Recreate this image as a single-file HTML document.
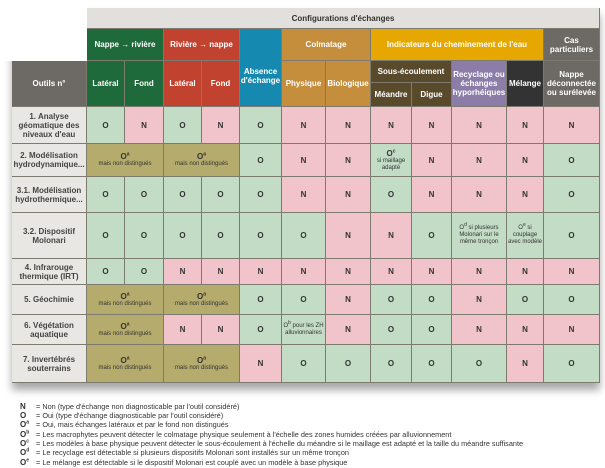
<!DOCTYPE html>
<html><head><meta charset="utf-8"><style>
body{margin:0;width:605px;height:468px;background:#fff;position:relative;overflow:hidden;font-family:"Liberation Sans",sans-serif}
.c{position:absolute;display:flex;align-items:center;justify-content:center;text-align:center;box-sizing:border-box;border-right:1px solid #7d7b70;border-bottom:1px solid #7d7b70;font-size:8px;line-height:9px;color:#333;font-weight:bold}
.h{color:#fff;font-size:8px}
.g{background:#c3dcc6}.p{background:#f1c4cb}.o{background:#b4ab6c}.l{background:#e9e7e3;font-size:8px;font-weight:bold;color:#444}
.s{font-size:6px;line-height:7px;font-weight:normal}
sup{font-size:5px;line-height:0}
.lg{position:absolute;left:20px;font-size:7.3px;color:#333;white-space:nowrap}
.lg b{display:inline-block;width:14px;font-size:8px}
</style></head><body>
<div style="position:absolute;left:12px;top:8px;width:588px;height:375px;box-shadow:0 7px 8px rgba(0,0,0,.35);"></div>
<div style="position:absolute;left:0;top:0;width:87px;height:61px;background:#fff"></div>
<div class="c" style="left:87px;top:8px;width:513px;height:21px;background:#e2e0dc;font-weight:bold">Configurations d'échanges</div>
<div class="c h" style="left:87px;top:29px;width:77px;height:32px;background:#1f6a3b">Nappe → rivière</div>
<div class="c h" style="left:164px;top:29px;width:76px;height:32px;background:#c1432f">Rivière → nappe</div>
<div class="c h" style="left:240px;top:29px;width:42px;height:78px;background:#1689b0;align-items:flex-start;padding-top:38px">Absence d'échange</div>
<div class="c h" style="left:282px;top:29px;width:89px;height:32px;background:#c58e3c">Colmatage</div>
<div class="c h" style="left:371px;top:29px;width:173px;height:32px;background:#e6a800">Indicateurs du cheminement de l'eau</div>
<div class="c h" style="left:544px;top:29px;width:56px;height:32px;background:#6d6a66">Cas particuliers</div>
<div class="c h" style="left:12px;top:61px;width:75px;height:46px;background:#6d6a66">Outils n°</div>
<div class="c h" style="left:87px;top:61px;width:38px;height:46px;background:#1f6a3b">Latéral</div>
<div class="c h" style="left:125px;top:61px;width:39px;height:46px;background:#1f6a3b">Fond</div>
<div class="c h" style="left:164px;top:61px;width:38px;height:46px;background:#c1432f">Latéral</div>
<div class="c h" style="left:202px;top:61px;width:38px;height:46px;background:#c1432f">Fond</div>
<div class="c h" style="left:282px;top:61px;width:44px;height:46px;background:#c58e3c">Physique</div>
<div class="c h" style="left:326px;top:61px;width:45px;height:46px;background:#c58e3c">Biologique</div>
<div class="c h" style="left:371px;top:61px;width:81px;height:22px;background:#5a4a2c">Sous-écoulement</div>
<div class="c h" style="left:371px;top:83px;width:41px;height:24px;background:#5a4a2c">Méandre</div>
<div class="c h" style="left:412px;top:83px;width:40px;height:24px;background:#5a4a2c">Digue</div>
<div class="c h" style="left:452px;top:61px;width:55px;height:46px;background:#8b7ca8">Recyclage ou échanges hyporhéiques</div>
<div class="c h" style="left:507px;top:61px;width:37px;height:46px;background:#333">Mélange</div>
<div class="c h" style="left:544px;top:61px;width:56px;height:46px;background:#6d6a66">Nappe déconnectée ou surélevée</div>
<!-- row 1 -->
<div class="c l" style="left:12px;top:107px;width:75px;height:37px">1. Analyse géomatique des niveaux d'eau</div>
<div class="c g" style="left:87px;top:107px;width:38px;height:37px">O</div>
<div class="c p" style="left:125px;top:107px;width:39px;height:37px">N</div>
<div class="c g" style="left:164px;top:107px;width:38px;height:37px">O</div>
<div class="c p" style="left:202px;top:107px;width:38px;height:37px">N</div>
<div class="c g" style="left:240px;top:107px;width:42px;height:37px">O</div>
<div class="c p" style="left:282px;top:107px;width:44px;height:37px">N</div>
<div class="c p" style="left:326px;top:107px;width:45px;height:37px">N</div>
<div class="c p" style="left:371px;top:107px;width:41px;height:37px">N</div>
<div class="c p" style="left:412px;top:107px;width:40px;height:37px">N</div>
<div class="c p" style="left:452px;top:107px;width:55px;height:37px">N</div>
<div class="c p" style="left:507px;top:107px;width:37px;height:37px">N</div>
<div class="c p" style="left:544px;top:107px;width:56px;height:37px">N</div>
<!-- row 2 -->
<div class="c l" style="left:12px;top:144px;width:75px;height:33px">2. Modélisation hydrodynamique...</div>
<div class="c o" style="left:87px;top:144px;width:77px;height:33px;flex-direction:column"><span>O<sup>a</sup></span><span class="s">mais non distingués</span></div>
<div class="c o" style="left:164px;top:144px;width:76px;height:33px;flex-direction:column"><span>O<sup>a</sup></span><span class="s">mais non distingués</span></div>
<div class="c g" style="left:240px;top:144px;width:42px;height:33px">O</div>
<div class="c p" style="left:282px;top:144px;width:44px;height:33px">N</div>
<div class="c p" style="left:326px;top:144px;width:45px;height:33px">N</div>
<div class="c g" style="left:371px;top:144px;width:41px;height:33px;flex-direction:column"><span>O<sup>c</sup></span><span class="s">si maillage adapté</span></div>
<div class="c p" style="left:412px;top:144px;width:40px;height:33px">N</div>
<div class="c p" style="left:452px;top:144px;width:55px;height:33px">N</div>
<div class="c p" style="left:507px;top:144px;width:37px;height:33px">N</div>
<div class="c g" style="left:544px;top:144px;width:56px;height:33px">O</div>
<!-- row 3 -->
<div class="c l" style="left:12px;top:177px;width:75px;height:36px">3.1. Modélisation hydrothermique...</div>
<div class="c g" style="left:87px;top:177px;width:38px;height:36px">O</div>
<div class="c g" style="left:125px;top:177px;width:39px;height:36px">O</div>
<div class="c g" style="left:164px;top:177px;width:38px;height:36px">O</div>
<div class="c g" style="left:202px;top:177px;width:38px;height:36px">O</div>
<div class="c g" style="left:240px;top:177px;width:42px;height:36px">O</div>
<div class="c p" style="left:282px;top:177px;width:44px;height:36px">N</div>
<div class="c p" style="left:326px;top:177px;width:45px;height:36px">N</div>
<div class="c g" style="left:371px;top:177px;width:41px;height:36px">O</div>
<div class="c p" style="left:412px;top:177px;width:40px;height:36px">N</div>
<div class="c p" style="left:452px;top:177px;width:55px;height:36px">N</div>
<div class="c p" style="left:507px;top:177px;width:37px;height:36px">N</div>
<div class="c g" style="left:544px;top:177px;width:56px;height:36px">O</div>
<!-- row 4 -->
<div class="c l" style="left:12px;top:213px;width:75px;height:46px">3.2. Dispositif Molonari</div>
<div class="c g" style="left:87px;top:213px;width:38px;height:46px">O</div>
<div class="c g" style="left:125px;top:213px;width:39px;height:46px">O</div>
<div class="c g" style="left:164px;top:213px;width:38px;height:46px">O</div>
<div class="c g" style="left:202px;top:213px;width:38px;height:46px">O</div>
<div class="c g" style="left:240px;top:213px;width:42px;height:46px">O</div>
<div class="c g" style="left:282px;top:213px;width:44px;height:46px">O</div>
<div class="c p" style="left:326px;top:213px;width:45px;height:46px">N</div>
<div class="c p" style="left:371px;top:213px;width:41px;height:46px">N</div>
<div class="c g" style="left:412px;top:213px;width:40px;height:46px">O</div>
<div class="c g" style="left:452px;top:213px;width:55px;height:46px"><span class="s">O<sup>d</sup> si plusieurs Molonari sur le même tronçon</span></div>
<div class="c g" style="left:507px;top:213px;width:37px;height:46px"><span class="s">O<sup>e</sup> si couplage avec modèle</span></div>
<div class="c g" style="left:544px;top:213px;width:56px;height:46px">O</div>
<!-- row 5 -->
<div class="c l" style="left:12px;top:259px;width:75px;height:26px">4. Infrarouge thermique (IRT)</div>
<div class="c g" style="left:87px;top:259px;width:38px;height:26px">O</div>
<div class="c g" style="left:125px;top:259px;width:39px;height:26px">O</div>
<div class="c p" style="left:164px;top:259px;width:38px;height:26px">N</div>
<div class="c p" style="left:202px;top:259px;width:38px;height:26px">N</div>
<div class="c p" style="left:240px;top:259px;width:42px;height:26px">N</div>
<div class="c p" style="left:282px;top:259px;width:44px;height:26px">N</div>
<div class="c p" style="left:326px;top:259px;width:45px;height:26px">N</div>
<div class="c p" style="left:371px;top:259px;width:41px;height:26px">N</div>
<div class="c p" style="left:412px;top:259px;width:40px;height:26px">N</div>
<div class="c p" style="left:452px;top:259px;width:55px;height:26px">N</div>
<div class="c p" style="left:507px;top:259px;width:37px;height:26px">N</div>
<div class="c p" style="left:544px;top:259px;width:56px;height:26px">N</div>
<!-- row 6 -->
<div class="c l" style="left:12px;top:285px;width:75px;height:30px">5. Géochimie</div>
<div class="c o" style="left:87px;top:285px;width:77px;height:30px;flex-direction:column"><span>O<sup>a</sup></span><span class="s">mais non distingués</span></div>
<div class="c o" style="left:164px;top:285px;width:76px;height:30px;flex-direction:column"><span>O<sup>a</sup></span><span class="s">mais non distingués</span></div>
<div class="c g" style="left:240px;top:285px;width:42px;height:30px">O</div>
<div class="c g" style="left:282px;top:285px;width:44px;height:30px">O</div>
<div class="c p" style="left:326px;top:285px;width:45px;height:30px">N</div>
<div class="c g" style="left:371px;top:285px;width:41px;height:30px">O</div>
<div class="c g" style="left:412px;top:285px;width:40px;height:30px">O</div>
<div class="c p" style="left:452px;top:285px;width:55px;height:30px">N</div>
<div class="c g" style="left:507px;top:285px;width:37px;height:30px">O</div>
<div class="c g" style="left:544px;top:285px;width:56px;height:30px">O</div>
<!-- row 7 -->
<div class="c l" style="left:12px;top:315px;width:75px;height:30px">6. Végétation aquatique</div>
<div class="c o" style="left:87px;top:315px;width:77px;height:30px;flex-direction:column"><span>O<sup>a</sup></span><span class="s">mais non distingués</span></div>
<div class="c p" style="left:164px;top:315px;width:38px;height:30px">N</div>
<div class="c p" style="left:202px;top:315px;width:38px;height:30px">N</div>
<div class="c g" style="left:240px;top:315px;width:42px;height:30px">O</div>
<div class="c g" style="left:282px;top:315px;width:44px;height:30px"><span class="s">O<sup>b</sup> pour les ZH alluvionnaires</span></div>
<div class="c p" style="left:326px;top:315px;width:45px;height:30px">N</div>
<div class="c g" style="left:371px;top:315px;width:41px;height:30px">O</div>
<div class="c g" style="left:412px;top:315px;width:40px;height:30px">O</div>
<div class="c p" style="left:452px;top:315px;width:55px;height:30px">N</div>
<div class="c p" style="left:507px;top:315px;width:37px;height:30px">N</div>
<div class="c p" style="left:544px;top:315px;width:56px;height:30px">N</div>
<!-- row 8 -->
<div class="c l" style="left:12px;top:345px;width:75px;height:38px">7. Invertébrés souterrains</div>
<div class="c o" style="left:87px;top:345px;width:77px;height:38px;flex-direction:column"><span>O<sup>a</sup></span><span class="s">mais non distingués</span></div>
<div class="c o" style="left:164px;top:345px;width:76px;height:38px;flex-direction:column"><span>O<sup>a</sup></span><span class="s">mais non distingués</span></div>
<div class="c p" style="left:240px;top:345px;width:42px;height:38px">N</div>
<div class="c g" style="left:282px;top:345px;width:44px;height:38px">O</div>
<div class="c g" style="left:326px;top:345px;width:45px;height:38px">O</div>
<div class="c g" style="left:371px;top:345px;width:41px;height:38px">O</div>
<div class="c g" style="left:412px;top:345px;width:40px;height:38px">O</div>
<div class="c g" style="left:452px;top:345px;width:55px;height:38px">O</div>
<div class="c p" style="left:507px;top:345px;width:37px;height:38px">N</div>
<div class="c g" style="left:544px;top:345px;width:56px;height:38px">O</div>
<!-- legend -->
<div class="lg" style="top:402px"><b>N</b> =  Non (type d'échange non diagnosticable par l'outil considéré)</div>
<div class="lg" style="top:411px"><b>O</b> =  Oui (type d'échange diagnosticable par l'outil considéré)</div>
<div class="lg" style="top:420px"><b>O<sup>a</sup></b> =  Oui, mais échanges latéraux et par le fond non distingués</div>
<div class="lg" style="top:430px"><b>O<sup>b</sup></b> =  Les macrophytes peuvent  détecter le colmatage physique seulement à l'échelle des zones humides créées par alluvionnement</div>
<div class="lg" style="top:439px"><b>O<sup>c</sup></b> =  Les modèles à base physique peuvent détecter le sous-écoulement à l'échelle du méandre si le maillage est adapté et la taille du méandre suffisante</div>
<div class="lg" style="top:448px"><b>O<sup>d</sup></b> =  Le recyclage est détectable si plusieurs dispositifs Molonari sont installés sur un même tronçon</div>
<div class="lg" style="top:458px"><b>O<sup>e</sup></b> =  Le mélange est détectable si le dispositif Molonari est couplé avec un modèle à base physique</div>
</body></html>
